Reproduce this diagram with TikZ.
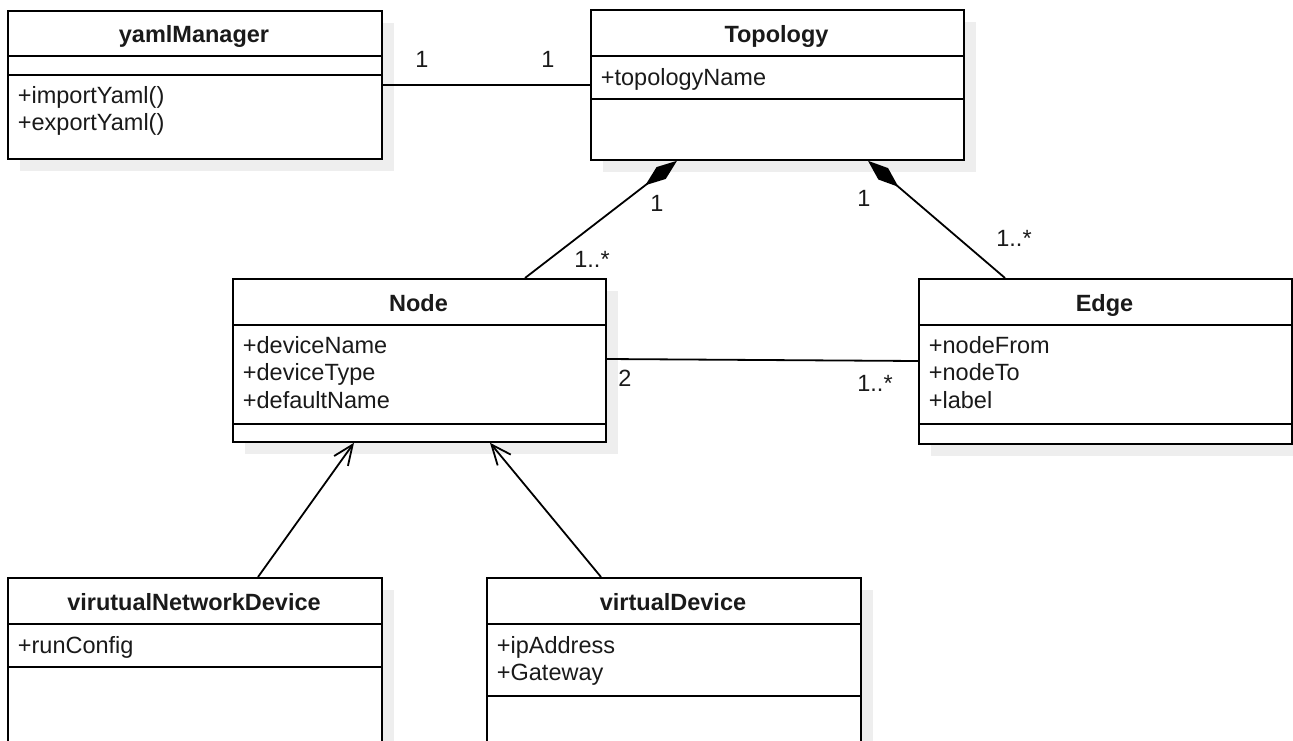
\documentclass[tikz,border=0pt]{standalone}
\usepackage{fontspec}
\setmainfont{Liberation Sans}
\usetikzlibrary{arrows.meta,calc,shadows}
\definecolor{shadowgray}{HTML}{EEEEEE}
\definecolor{ink}{HTML}{1A1A1A}
\begin{document}
\begin{tikzpicture}[x=1pt,y=-1pt,line width=1.8pt,
  classbox/.style={draw=black,fill=white,rectangle,inner sep=0pt,anchor=north west,
    general shadow={fill=shadowgray,shadow xshift=12pt,shadow yshift=-12pt}},
  title/.style={font=\fontsize{23.5}{28}\selectfont\bfseries,text=ink,inner sep=0pt,anchor=base},
  attr/.style={font=\fontsize{23.5}{28}\selectfont,text=ink,inner sep=0pt,anchor=base west},
  mult/.style={font=\fontsize{23.5}{28}\selectfont,text=ink,inner sep=0pt,anchor=base},
  divider/.style={draw=black,line width=1.8pt},
  assoc/.style={draw=black,line width=1.8pt},
  comp/.style={draw=black,line width=1.8pt,{Diamond[length=40pt,width=15pt]}-},
  gen/.style={draw=black,line width=1.8pt,-{Straight Barb[length=20pt,width=17pt]}},
]
\useasboundingbox (0,0) rectangle (1293,740);
\clip (0,0) rectangle (1293,740);

% ---- class boxes
\node[classbox,minimum width=374pt,minimum height=148pt] (yaml) at (7,10) {};
\node[classbox,minimum width=373pt,minimum height=150pt] (topo) at (590,9) {};
\node[classbox,minimum width=373pt,minimum height=163pt] (node) at (232,278) {};
\node[classbox,minimum width=373pt,minimum height=165pt] (edge) at (918,278) {};
\node[classbox,minimum width=374pt,minimum height=220pt] (vnd) at (7,577) {};
\node[classbox,minimum width=374pt,minimum height=220pt] (vd) at (486,577) {};

% ---- dividers
\draw[divider] (7,56) -- (381,56);
\draw[divider] (7,75) -- (381,75);
\draw[divider] (590,56) -- (963,56);
\draw[divider] (590,99) -- (963,99);
\draw[divider] (232,325) -- (605,325);
\draw[divider] (232,424) -- (605,424);
\draw[divider] (918,325) -- (1291,325);
\draw[divider] (918,424) -- (1291,424);
\draw[divider] (7,624) -- (381,624);
\draw[divider] (7,667) -- (381,667);
\draw[divider] (486,624) -- (860,624);
\draw[divider] (486,696) -- (860,696);

% ---- texts
\node[title] (yamlT) at (194,42) {yamlManager};
\node[attr] (yamlM1) at (17,103) {+importYaml()};
\node[attr] (yamlM2) at (17,130.5) {+exportYaml()};

\node[title] (topoT) at (776.5,42) {Topology};
\node[attr] (topoA1) at (600,85) {+topologyName};

\node[title] (nodeT) at (418.5,311) {Node};
\node[attr] (nodeA1) at (242,353) {+deviceName};
\node[attr] (nodeA2) at (242,380.5) {+deviceType};
\node[attr] (nodeA3) at (242,408) {+defaultName};

\node[title] (edgeT) at (1104.5,311) {Edge};
\node[attr] (edgeA1) at (928,353) {+nodeFrom};
\node[attr] (edgeA2) at (928,380.5) {+nodeTo};
\node[attr] (edgeA3) at (928,408) {+label};

\node[title] (vndT) at (194,610) {virutualNetworkDevice};
\node[attr] (vndA1) at (17,653) {+runConfig};

\node[title] (vdT) at (673,610) {virtualDevice};
\node[attr] (vdA1) at (496,653) {+ipAddress};
\node[attr] (vdA2) at (496,680) {+Gateway};

% ---- connectors
\draw[assoc] (yaml.east) -- (topo.west);
\draw[comp] ($(topo.south west)+(87,0)$) -- ($(node.north west)+(293,0)$);
\draw[comp] ($(topo.south west)+(278,0)$) -- ($(edge.north west)+(87,0)$);
\draw[assoc] ($(node.north east)+(0,81)$) -- ($(edge.north west)+(0,83)$);
\draw[gen] ($(vnd.north west)+(251,0)$) -- ($(node.south west)+(122,0)$);
\draw[gen] ($(vd.north west)+(115,0)$) -- ($(node.south west)+(258,0)$);

% ---- multiplicities
\node[mult] (m1) at (422,67) {1};
\node[mult] (m2) at (548,67) {1};
\node[mult] (m3) at (657,211) {1};
\node[mult] (m4) at (592,267) {1..*};
\node[mult] (m5) at (864,206) {1};
\node[mult] (m6) at (1014,246) {1..*};
\node[mult] (m7) at (625,386) {2};
\node[mult] (m8) at (875,391) {1..*};
\end{tikzpicture}
\end{document}
